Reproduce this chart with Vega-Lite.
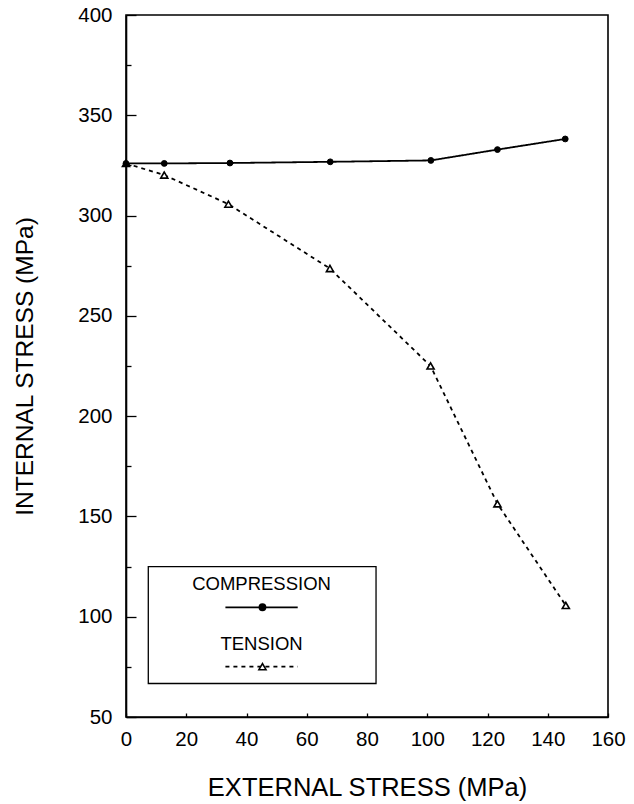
{
  "$schema": "https://vega.github.io/schema/vega-lite/v6.json",
  "width": 482,
  "height": 702,
  "autosize": "none",
  "padding": {"left": 126, "top": 15, "right": 26, "bottom": 87},
  "background": "white",
  "config": {
    "font": "Liberation Sans",
    "view": {"stroke": "black", "strokeWidth": 1.6},
    "axis": {
      "domainColor": "black",
      "domainWidth": 1.6,
      "tickColor": "black",
      "tickWidth": 1.3,
      "labelColor": "black",
      "titleColor": "black",
      "labelFontSize": 20.5,
      "titleFontSize": 24.5,
      "titleFontWeight": "normal",
      "grid": false,
      "labelFlush": false,
      "labelOverlap": false
    }
  },
  "datasets": {
    "stress": [
      {"load": "COMPRESSION", "external": 0, "internal": 326},
      {"load": "COMPRESSION", "external": 12.7, "internal": 326},
      {"load": "COMPRESSION", "external": 34.5, "internal": 326.2},
      {"load": "COMPRESSION", "external": 67.8, "internal": 326.8},
      {"load": "COMPRESSION", "external": 101.2, "internal": 327.5},
      {"load": "COMPRESSION", "external": 123.3, "internal": 332.9},
      {"load": "COMPRESSION", "external": 145.8, "internal": 338.2},
      {"load": "TENSION", "external": 0, "internal": 326},
      {"load": "TENSION", "external": 12.7, "internal": 320.2},
      {"load": "TENSION", "external": 34.0, "internal": 305.7},
      {"load": "TENSION", "external": 67.7, "internal": 273.6},
      {"load": "TENSION", "external": 101.1, "internal": 225},
      {"load": "TENSION", "external": 123.3, "internal": 156.3},
      {"load": "TENSION", "external": 146, "internal": 105.6}
    ]
  },
  "layer": [
    {
      "data": {"name": "stress"},
      "mark": {"type": "line", "color": "black", "strokeWidth": 1.8},
      "encoding": {
        "x": {
          "field": "external",
          "type": "quantitative",
          "scale": {"domain": [0, 160], "nice": false},
          "axis": {
            "title": "EXTERNAL STRESS (MPa)",
            "titleFontSize": 25.5,
            "values": [0, 10, 20, 30, 40, 50, 60, 70, 80, 90, 100, 110, 120, 130, 140, 150, 160],
            "labelExpr": "datum.value % 20 ? '' : datum.label",
            "tickSize": -4,
            "labelPadding": 16,
            "titlePadding": 26
          }
        },
        "y": {
          "field": "internal",
          "type": "quantitative",
          "scale": {"domain": [50, 400], "nice": false},
          "axis": {
            "title": "INTERNAL STRESS (MPa)",
            "values": [50, 75, 100, 125, 150, 175, 200, 225, 250, 275, 300, 325, 350, 375, 400],
            "labelExpr": "datum.value % 50 ? '' : datum.label",
            "tickSize": {"condition": {"test": "datum.value % 50 === 0", "value": -10}, "value": -5},
            "labelPadding": 24,
            "titlePadding": 40
          }
        },
        "strokeDash": {
          "field": "load",
          "type": "nominal",
          "scale": {"domain": ["COMPRESSION", "TENSION"], "range": [[1, 0], [4, 4]]},
          "legend": null
        },
        "detail": {"field": "load"}
      }
    },
    {
      "data": {"name": "stress"},
      "transform": [{"filter": "datum.load === 'TENSION'"}],
      "mark": {"type": "point", "shape": "triangle-up", "size": 50, "filled": true, "fill": "white", "stroke": "black", "strokeWidth": 1.6, "opacity": 1},
      "encoding": {
        "x": {"field": "external", "type": "quantitative"},
        "y": {"field": "internal", "type": "quantitative"}
      }
    },
    {
      "data": {"name": "stress"},
      "transform": [{"filter": "datum.load === 'COMPRESSION'"}],
      "mark": {"type": "point", "shape": "circle", "size": 34, "filled": true, "fill": "black", "stroke": "black", "strokeWidth": 1, "opacity": 1},
      "encoding": {
        "x": {"field": "external", "type": "quantitative"},
        "y": {"field": "internal", "type": "quantitative"}
      }
    },
    {
      "data": {"values": [{}]},
      "mark": {"type": "rect", "fill": "white", "fillOpacity": 0, "stroke": "black", "strokeWidth": 1.3},
      "encoding": {
        "x": {"datum": 7.4},
        "x2": {"datum": 83},
        "y": {"datum": 125},
        "y2": {"datum": 66.7}
      }
    },
    {
      "data": {"values": [{}]},
      "mark": {"type": "text", "text": "COMPRESSION", "fontSize": 18.5, "align": "center", "baseline": "middle", "color": "black"},
      "encoding": {"x": {"datum": 45}, "y": {"datum": 116.4}}
    },
    {
      "data": {"values": [{}]},
      "mark": {"type": "text", "text": "TENSION", "fontSize": 18.5, "align": "center", "baseline": "middle", "color": "black"},
      "encoding": {"x": {"datum": 45}, "y": {"datum": 86.4}}
    },
    {
      "data": {"values": [{}]},
      "mark": {"type": "rule", "color": "black", "strokeWidth": 1.8},
      "encoding": {"x": {"datum": 33}, "x2": {"datum": 57}, "y": {"datum": 104.7}}
    },
    {
      "data": {"values": [{}]},
      "mark": {"type": "rule", "color": "black", "strokeWidth": 1.8, "strokeDash": [4, 4]},
      "encoding": {"x": {"datum": 33}, "x2": {"datum": 57}, "y": {"datum": 75.1}}
    },
    {
      "data": {"values": [{}]},
      "mark": {"type": "point", "shape": "circle", "size": 34, "filled": true, "fill": "black", "stroke": "black", "opacity": 1},
      "encoding": {"x": {"datum": 45.3}, "y": {"datum": 104.7}}
    },
    {
      "data": {"values": [{}]},
      "mark": {"type": "point", "shape": "triangle-up", "size": 50, "filled": true, "fill": "white", "stroke": "black", "strokeWidth": 1.6, "opacity": 1},
      "encoding": {"x": {"datum": 45.3}, "y": {"datum": 75.1}}
    }
  ]
}
